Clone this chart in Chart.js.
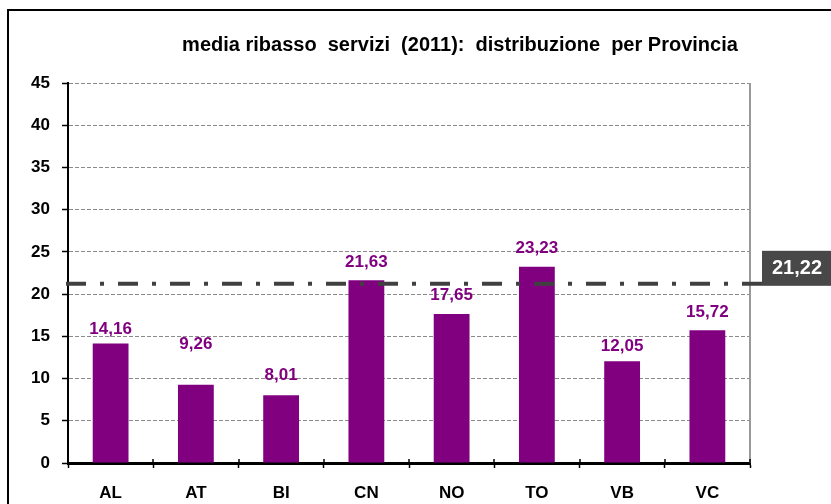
<!DOCTYPE html>
<html>
<head>
<meta charset="utf-8">
<script src="https://cdn.jsdelivr.net/npm/chart.js@4/dist/chart.umd.min.js"></script>
<style>
  html, body { margin: 0; padding: 0; background: #fff; }
  #wrap { width: 831px; height: 504px; position: relative; }
</style>
</head>
<body>
<div id="wrap"><canvas id="ribassoChart"></canvas></div>
<script>
// media ribasso servizi per provincia (2011)
const province = ['AL', 'AT', 'BI', 'CN', 'NO', 'TO', 'VB', 'VC'];
const ribasso = [14.16, 9.26, 8.01, 21.63, 17.65, 23.23, 12.05, 15.72];
const mediaRegionale = 21.22;
const yTicks = [0, 5, 10, 15, 20, 25, 30, 35, 40, 45];

const FONT = 'Arial, "Liberation Sans", sans-serif';
const PURPLE = '#800080';

function fmt(v) {
    return v.toFixed(2).replace('.', ',');
}

// frame, title, right edge, mean line, value labels
const decorations = {
    id: 'decorations',
    beforeDraw(chart) {
        const ctx = chart.ctx;
        ctx.save();
        ctx.fillStyle = '#fff';
        ctx.fillRect(0, 0, chart.width, chart.height);
        ctx.strokeStyle = '#000';
        ctx.lineWidth = 2;
        ctx.beginPath();
        ctx.moveTo(8, chart.height);
        ctx.lineTo(8, 10);
        ctx.lineTo(chart.width, 10);
        ctx.stroke();

        ctx.fillStyle = '#000';
        ctx.font = 'bold 20px ' + FONT;
        ctx.textAlign = 'center';
        ctx.textBaseline = 'middle';
        ctx.fillText('media ribasso  servizi  (2011):  distribuzione  per Provincia', 460, 45);
        ctx.restore();
    },
    afterDraw(chart) {
        const ctx = chart.ctx;
        const area = chart.chartArea;
        const y = chart.scales.y;
        ctx.save();

        // right edge of the plot
        ctx.strokeStyle = '#999';
        ctx.lineWidth = 2;
        ctx.beginPath();
        ctx.moveTo(area.right, area.top);
        ctx.lineTo(area.right, area.bottom);
        ctx.stroke();

        // small inner halves of the category ticks
        const x = chart.scales.x;
        ctx.strokeStyle = '#000';
        ctx.lineWidth = 1.5;
        for (let i = 0; i <= province.length; i++) {
            const px = Math.round(x.getPixelForValue(i - 0.5));
            ctx.beginPath();
            ctx.moveTo(px, area.bottom);
            ctx.lineTo(px, area.bottom - 4);
            ctx.stroke();
        }

        // value labels
        const lift = [14, 40, 20, 18, 19, 19, 15, 18];
        const meta = chart.getDatasetMeta(0);
        ctx.fillStyle = PURPLE;
        ctx.font = 'bold 17px ' + FONT;
        ctx.textAlign = 'center';
        ctx.textBaseline = 'middle';
        meta.data.forEach((bar, i) => {
            ctx.fillText(fmt(ribasso[i]), bar.x, bar.y - lift[i]);
        });

        // regional mean line
        const my = y.getPixelForValue(mediaRegionale);
        ctx.strokeStyle = '#404040';
        ctx.lineWidth = 4;
        ctx.setLineDash([20, 14, 4, 14]);
        ctx.beginPath();
        ctx.moveTo(66, my);
        ctx.lineTo(770, my);
        ctx.stroke();
        ctx.setLineDash([]);

        ctx.fillStyle = '#484848';
        ctx.fillRect(762, my - 33, 69, 35);
        ctx.fillStyle = '#fff';
        ctx.font = 'bold 20px ' + FONT;
        ctx.textAlign = 'center';
        ctx.fillText(fmt(mediaRegionale), 797, my - 15);
        ctx.restore();
    }
};

const data = {
    labels: province,
    datasets: [{
        label: 'media ribasso servizi',
        data: ribasso,
        backgroundColor: PURPLE,
        borderWidth: 0,
        barPercentage: 0.42,
        categoryPercentage: 1
    }]
};

const config = {
    type: 'bar',
    data: data,
    options: {
        responsive: false,
        animation: false,
        layout: {
            padding: { left: 0, top: 83, right: 81, bottom: 0 }
        },
        plugins: {
            legend: { display: false },
            tooltip: { enabled: false },
            title: { display: false }
        },
        scales: {
            x: {
                offset: true,
                afterFit(scale) { scale.height = 41; },
                grid: {
                    offset: true,
                    drawOnChartArea: false,
                    drawTicks: true,
                    tickLength: 5,
                    tickColor: '#000',
                    tickWidth: 1.5
                },
                border: { display: true, color: '#000', width: 3 },
                ticks: {
                    color: '#000',
                    font: { family: FONT, size: 17, weight: 'bold' },
                    padding: 15,
                    maxRotation: 0
                }
            },
            y: {
                min: 0,
                max: 45,
                afterFit(scale) { scale.width = 68; },
                afterBuildTicks(scale) {
                    scale.ticks = yTicks.map(v => ({ value: v }));
                },
                grid: {
                    color: '#8a8a8a',
                    lineWidth: 1,
                    drawTicks: true,
                    tickLength: 6,
                    tickColor: '#000',
                    tickWidth: 1.5,
                    tickBorderDash: []
                },
                border: { display: true, color: '#000', width: 2, dash: [4, 2] },
                ticks: {
                    color: '#000',
                    font: { family: FONT, size: 17, weight: 'bold' },
                    padding: 12
                }
            }
        }
    },
    plugins: [decorations]
};

const canvas = document.getElementById('ribassoChart');
canvas.width = 831;
canvas.height = 504;
new Chart(canvas.getContext('2d'), config);
</script>
</body>
</html>
